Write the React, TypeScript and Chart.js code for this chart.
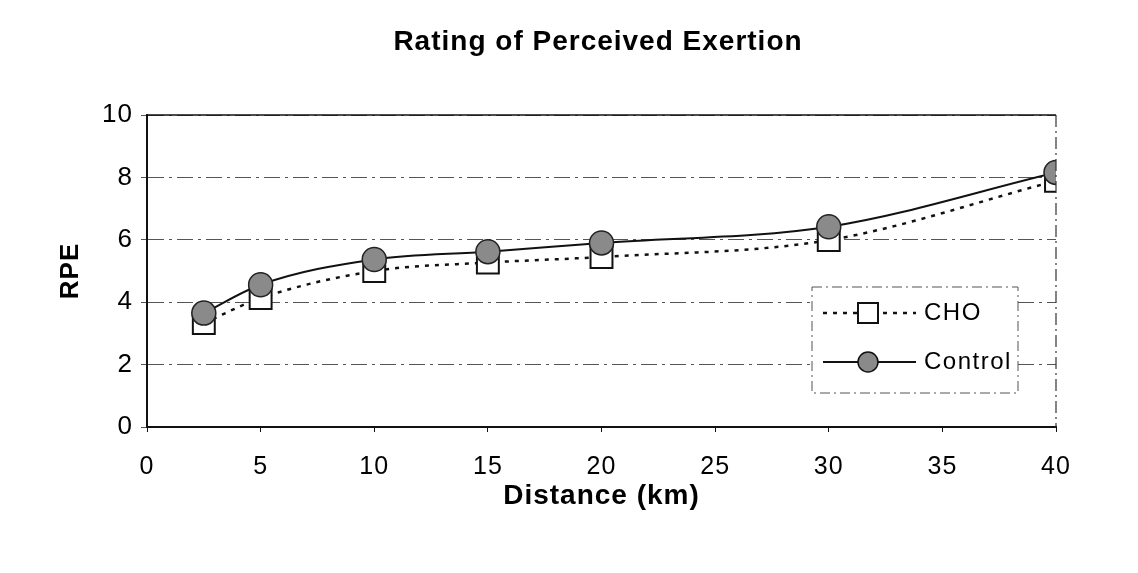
import React, { useEffect, useRef } from "react";
import { Chart, registerables } from "chart.js";

Chart.register(...registerables);

const distances: number[] = [2.5, 5, 10, 15, 20, 30, 40];
const choValues: number[] = [3.33, 4.13, 5.0, 5.27, 5.45, 5.99, 7.89];
const controlValues: number[] = [3.65, 4.56, 5.37, 5.62, 5.9, 6.42, 8.16];
const seriesNames: string[] = ["CHO", "Control"];
const titleText = "Rating of Perceived Exertion";
const xTitle = "Distance (km)";
const yTitle = "RPE";

const FONT = "'Liberation Sans', Arial, sans-serif";

const spacingPlugin = {
  id: "spacing",
  beforeDraw(chart: any) {
    chart.ctx.letterSpacing = "1px";
  },
};

const overlayPlugin = {
  id: "overlay",
  afterDatasetsDraw(chart: any) {
    const { ctx, chartArea } = chart;
    const { left, right, top, bottom } = chartArea;
    ctx.save();
    // top border solid
    ctx.strokeStyle = "#111";
    ctx.lineWidth = 1.5;
    ctx.setLineDash([]);
    ctx.beginPath();
    ctx.moveTo(left, top);
    ctx.lineTo(right, top);
    ctx.stroke();
    // right border dash-dot
    ctx.strokeStyle = "#333";
    ctx.lineWidth = 1.2;
    ctx.setLineDash([12, 4, 2, 4]);
    ctx.beginPath();
    ctx.moveTo(right, top);
    ctx.lineTo(right, bottom);
    ctx.stroke();

    // legend box
    const bx = 812, by = 287, bw = 206, bh = 106;
    ctx.fillStyle = "#ffffff";
    ctx.fillRect(bx, by, bw, bh);
    ctx.strokeStyle = "#555";
    ctx.lineWidth = 1;
    ctx.setLineDash([10, 4, 2, 4]);
    ctx.strokeRect(bx, by, bw, bh);

    const rows = [
      { name: seriesNames[0], y: 313, dash: [4, 6], marker: "rect" },
      { name: seriesNames[1], y: 362, dash: [], marker: "circle" },
    ];
    rows.forEach((r) => {
      ctx.strokeStyle = "#111";
      ctx.lineWidth = r.marker === "rect" ? 2.5 : 2;
      ctx.setLineDash(r.dash);
      ctx.beginPath();
      ctx.moveTo(823, r.y);
      ctx.lineTo(916, r.y);
      ctx.stroke();
      ctx.setLineDash([]);
      if (r.marker === "rect") {
        ctx.fillStyle = "#fff";
        ctx.lineWidth = 2;
        ctx.fillRect(858, r.y - 10, 20, 20);
        ctx.strokeRect(858, r.y - 10, 20, 20);
      } else {
        ctx.fillStyle = "#8a8a8a";
        ctx.lineWidth = 1.5;
        ctx.beginPath();
        ctx.arc(868, r.y, 10, 0, Math.PI * 2);
        ctx.fill();
        ctx.stroke();
      }
      ctx.fillStyle = "#000";
      ctx.font = `24px ${FONT}`;
      ctx.letterSpacing = "1.5px";
      ctx.textBaseline = "middle";
      ctx.textAlign = "left";
      ctx.fillText(r.name, 924, r.y);
    });

    // chart title
    ctx.fillStyle = "#000";
    ctx.font = `bold 28px ${FONT}`;
    ctx.letterSpacing = "1px";
    ctx.textAlign = "center";
    ctx.textBaseline = "alphabetic";
    ctx.fillText(titleText, 598, 50);
    ctx.restore();
  },
};

export default function App() {
  const ref = useRef<HTMLCanvasElement | null>(null);
  useEffect(() => {
    if (!ref.current) return;
    const chart = new Chart(ref.current, {
      type: "line",
      data: {
        datasets: [
          {
            label: seriesNames[1],
            data: distances.map((d, i) => ({ x: d, y: controlValues[i] })),
            borderColor: "#111",
            borderWidth: 2,
            pointStyle: "circle",
            pointRadius: 12,
            pointBackgroundColor: "#8a8a8a",
            pointBorderColor: "#222",
            pointBorderWidth: 1.5,
            cubicInterpolationMode: "monotone",
            order: 0,
          },
          {
            label: seriesNames[0],
            data: distances.map((d, i) => ({ x: d, y: choValues[i] })),
            borderColor: "#111",
            borderWidth: 2.5,
            borderDash: [4, 6],
            pointStyle: "rect",
            pointRadius: 15.5,
            pointBackgroundColor: "#fff",
            pointBorderColor: "#111",
            pointBorderWidth: 2,
            cubicInterpolationMode: "monotone",
            order: 1,
          },
        ],
      },
      options: {
        animation: false,
        responsive: false,
        maintainAspectRatio: false,
        layout: { padding: { left: 0, right: 82, top: 115, bottom: 0 } },
        plugins: {
          legend: { display: false },
          tooltip: { enabled: false },
          title: { display: false },
        },
        scales: {
          x: {
            type: "linear",
            min: 0,
            max: 40,
            afterFit: (s: any) => { s.height = 146; },
            ticks: { stepSize: 5, color: "#000", font: { family: FONT, size: 25 }, padding: 20 },
            grid: { drawOnChartArea: false, drawTicks: true, tickLength: 5, color: "#111" },
            border: { color: "#111", width: 2 },
            title: {
              display: true,
              text: xTitle,
              color: "#000",
              font: { family: FONT, size: 28, weight: "bold" },
              padding: { top: 0, bottom: 60 },
            },
          },
          y: {
            min: 0,
            max: 10,
            afterFit: (s: any) => { s.width = 147; },
            ticks: { stepSize: 2, color: "#000", font: { family: FONT, size: 26 }, padding: 8 },
            grid: {
              color: "#555",
              lineWidth: 1,
              tickLength: 6,
            },
            border: { color: "#111", width: 2, dash: [16, 5, 3, 5] },
            title: {
              display: true,
              text: yTitle,
              color: "#000",
              font: { family: FONT, size: 26, weight: "bold" },
              padding: { top: 55, bottom: 0 },
            },
          },
        },
      },
      plugins: [spacingPlugin, overlayPlugin],
    } as any);
    return () => chart.destroy();
  }, []);
  return (
    <div style={{ position: "absolute", left: 0, top: 0, width: 1138, height: 573, background: "#fff" }}>
      <canvas ref={ref} width={1138} height={573} style={{ width: 1138, height: 573 }} />
    </div>
  );
}
